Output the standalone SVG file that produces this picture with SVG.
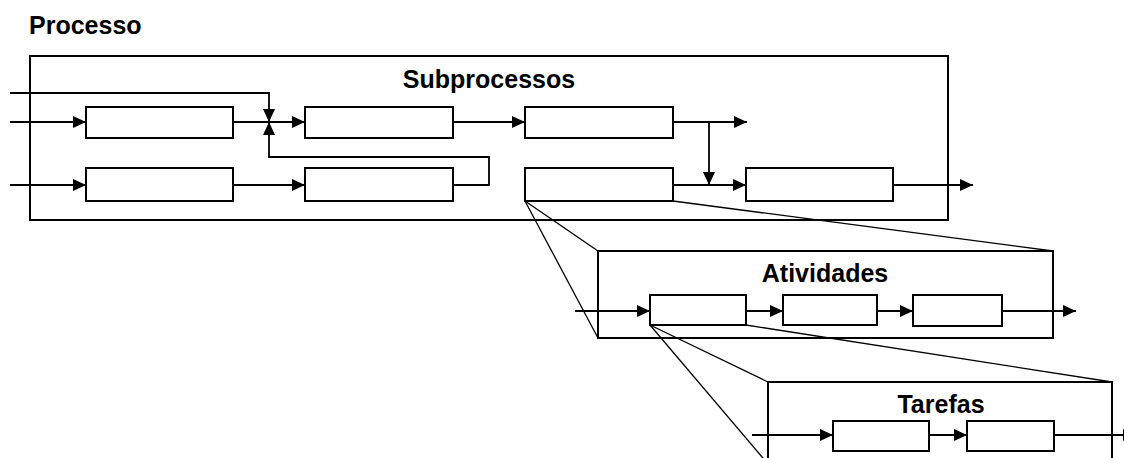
<svg xmlns="http://www.w3.org/2000/svg" width="1124" height="458" viewBox="0 0 1124 458">
<style>
.frame{fill:none;stroke:#000;stroke-width:2}
.box{fill:#fff;stroke:#000;stroke-width:2}
.ln{fill:none;stroke:#000;stroke-width:1.8}
.arr{fill:none;stroke:#000;stroke-width:1.8;marker-end:url(#ah)}
.persp{fill:none;stroke:#000;stroke-width:1.3}
.lbl{font-family:"Liberation Sans",Arial,sans-serif;font-weight:bold;font-size:25px;fill:#000}
</style>
<defs>
<marker id="ah" markerUnits="userSpaceOnUse" markerWidth="14" markerHeight="12" refX="13" refY="6" orient="auto">
<path d="M0,0 L13,6 L0,12 z" fill="#000"/>
</marker>
</defs>
<rect width="1124" height="458" fill="#fff"/>
<text class="lbl" x="29" y="34" font-size="24">Processo</text>

<g id="processo">
<rect class="frame" x="30" y="56" width="918" height="164"/>
<text class="lbl" x="489" y="88" text-anchor="middle">Subprocessos</text>
</g>

<g id="perspective">
<line class="persp" x1="525" y1="201" x2="598" y2="251"/>
<line class="persp" x1="525" y1="201" x2="598" y2="338"/>
<line class="persp" x1="673" y1="201" x2="1053" y2="251"/>
<line class="persp" x1="650" y1="325" x2="768" y2="382"/>
<line class="persp" x1="650" y1="325" x2="768" y2="464"/>
<line class="persp" x1="746" y1="325" x2="1112" y2="382"/>
</g>

<g id="atividades">
<rect class="frame" x="598" y="251" width="455" height="87"/>
<text class="lbl" x="825" y="282" text-anchor="middle">Atividades</text>
</g>

<g id="tarefas">
<path class="frame" d="M768,470 V382 H1112 V470"/>
<text class="lbl" x="941" y="413" text-anchor="middle">Tarefas</text>
</g>

<g id="connectors">
<path class="arr" d="M10,122 H86"/>
<path class="arr" d="M10,93 H269 V122"/>
<path class="arr" d="M233,122 H305"/>
<path class="arr" d="M453,185 H489 V157 H269 V122"/>
<path class="arr" d="M10,185 H86"/>
<path class="arr" d="M233,185 H305"/>
<path class="arr" d="M453,122 H525"/>
<path class="arr" d="M673,122 H747"/>
<path class="arr" d="M709,122 V185"/>
<path class="arr" d="M673,185 H746"/>
<path class="arr" d="M893,185 H973"/>
<path class="arr" d="M575,311 H650"/>
<path class="arr" d="M746,311 H783"/>
<path class="arr" d="M877,311 H913"/>
<path class="arr" d="M1002,311 H1076"/>
<path class="arr" d="M752,435 H833"/>
<path class="arr" d="M929,435 H967"/>
<path class="arr" d="M1054,435 H1136"/>
</g>

<g id="sp1"><rect class="box" x="86" y="107" width="147" height="31"/></g>
<g id="sp2"><rect class="box" x="305" y="107" width="148" height="31"/></g>
<g id="sp3"><rect class="box" x="525" y="107" width="148" height="31"/></g>
<g id="sp4"><rect class="box" x="86" y="168" width="147" height="33"/></g>
<g id="sp5"><rect class="box" x="305" y="168" width="148" height="33"/></g>
<g id="sp6"><rect class="box" x="525" y="168" width="148" height="33"/></g>
<g id="sp7"><rect class="box" x="746" y="168" width="147" height="33"/></g>

<g id="at1"><rect class="box" x="650" y="295" width="96" height="30"/></g>
<g id="at2"><rect class="box" x="783" y="295" width="94" height="30"/></g>
<g id="at3"><rect class="box" x="913" y="295" width="89" height="31"/></g>

<g id="ta1"><rect class="box" x="833" y="421" width="96" height="30"/></g>
<g id="ta2"><rect class="box" x="967" y="421" width="87" height="30"/></g>
</svg>
